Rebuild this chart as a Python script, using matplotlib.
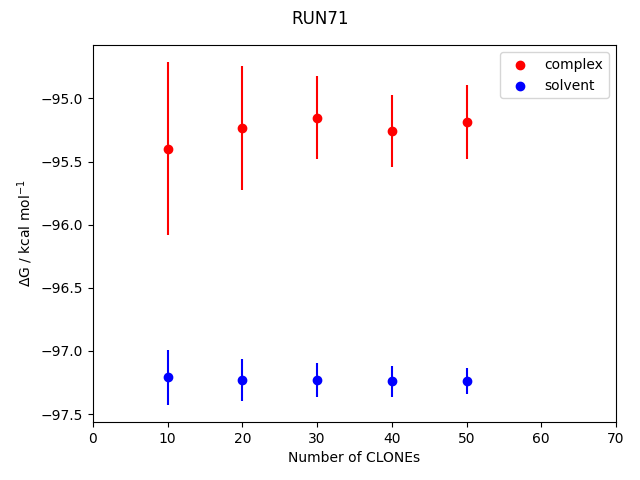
import matplotlib
matplotlib.use("Agg")
import matplotlib.pyplot as plt

# number of clones
clones = [10, 20, 30, 40, 50]

# complex leg
complex_dg = [-95.399, -95.233, -95.153, -95.256, -95.185]
complex_err = [0.685, 0.491, 0.328, 0.285, 0.292]

# solvent leg
solvent_dg = [-97.209, -97.230, -97.230, -97.238, -97.238]
solvent_err = [0.217, 0.169, 0.134, 0.123, 0.102]

fig, ax = plt.subplots(figsize=(6.4, 4.8), dpi=100)

ax.scatter(clones, complex_dg, color="red", label="complex")
ax.errorbar(clones, complex_dg, yerr=complex_err, fmt="none", ecolor="red")
ax.scatter(clones, solvent_dg, color="blue", label="solvent")
ax.errorbar(clones, solvent_dg, yerr=solvent_err, fmt="none", ecolor="blue")

ax.set_xlim(0, 70)
ax.set_xlabel("Number of CLONEs")
ax.set_ylabel(r"$\Delta$G / kcal mol$^{-1}$")
ax.legend(loc="upper right")
fig.suptitle("RUN71")

fig.subplots_adjust(left=0.1453, right=0.9625, top=0.906, bottom=0.121)
fig.savefig("out.png")
